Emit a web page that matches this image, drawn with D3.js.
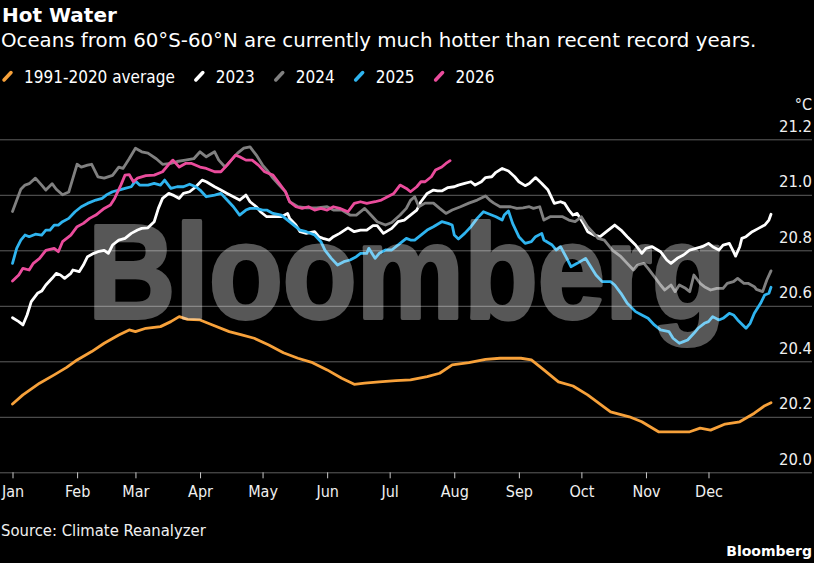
<!DOCTYPE html>
<html>
<head>
<meta charset="utf-8">
<script src="https://cdn.jsdelivr.net/npm/d3@7"></script>
<style>
  body { margin: 0; background: #000; }
  svg { display: block; background: #000; }
</style>
</head>
<body>
<svg id="chart"></svg>
<script>
// day of year (0 = Jan 1), sea surface temperature in °C
const avg = [[0,20.246],[5,20.279],[13,20.321],[20,20.351],[26,20.378],[31,20.405],[38,20.435],[44,20.465],
  [51,20.495],[56,20.513],[59,20.507],[64,20.519],[71,20.525],[76,20.543],[80,20.561],[84,20.551],[90,20.549],
  [96,20.531],[104,20.507],[110,20.495],[116,20.483],[123,20.459],[130,20.431],[137,20.411],[144,20.395],
  [151,20.369],[158,20.339],[164,20.317],[169,20.321],[176,20.326],[184,20.33],[191,20.333],[199,20.345],
  [205,20.357],[211,20.387],[219,20.395],[227,20.407],[234,20.411],[244,20.411],[249,20.405],[255,20.369],
  [262,20.326],[269,20.311],[276,20.279],[287,20.218],[296,20.2],[302,20.182],[310,20.146],[319,20.146],
  [325,20.146],[330,20.159],[335,20.152],[342,20.174],[349,20.182],[356,20.213],[361,20.24],[364,20.251]]

const y2023 = [[0,20.557],[3,20.543],[5,20.531],[7,20.567],[9,20.615],[12,20.645],[14,20.653],[16,20.675],
  [19,20.699],[21,20.717],[23,20.711],[25,20.699],[28,20.717],[29,20.729],[32,20.723],[34,20.747],[36,20.777],
  [39,20.789],[41,20.795],[44,20.80],[46,20.789],[48,20.819],[51,20.837],[54,20.843],[57,20.861],[60,20.873],
  [62,20.879],[65,20.881],[68,20.903],[70,20.951],[72,20.987],[75,21.005],[77,20.999],[80,20.987],[82,21.005],
  [85,21.011],[88,21.029],[91,21.053],[93,21.047],[97,21.029],[100,21.017],[103,21.005],[106,20.993],
  [109,20.981],[112,20.999],[114,20.975],[117,20.957],[119,20.939],[122,20.921],[125,20.921],[129,20.921],
  [132,20.933],[133,20.915],[136,20.891],[138,20.867],[141,20.861],[145,20.867],[147,20.849],[149,20.843],
  [152,20.837],[154,20.849],[157,20.861],[161,20.881],[164,20.867],[167,20.873],[170,20.873],[173,20.889],
  [175,20.889],[178,20.861],[182,20.879],[185,20.903],[188,20.909],[191,20.927],[194,20.945],[196,20.975],
  [199,21.005],[202,21.017],[204,21.014],[206,21.014],[209,21.026],[212,21.029],[214,21.035],[217,21.041],
  [220,21.047],[222,21.035],[225,21.047],[227,21.062],[230,21.065],[232,21.081],[235,21.095],[238,21.086],
  [241,21.065],[243,21.047],[246,21.033],[248,21.041],[251,21.062],[254,21.041],[257,21.017],[260,20.969],
  [263,20.975],[265,20.969],[267,20.945],[269,20.927],[271,20.933],[274,20.897],[276,20.867],[279,20.855],
  [282,20.849],[285,20.867],[287,20.879],[289,20.891],[292,20.873],[295,20.849],[299,20.819],[302,20.789],
  [304,20.807],[307,20.813],[311,20.795],[314,20.765],[316,20.753],[319,20.771],[322,20.783],[325,20.801],
  [328,20.807],[331,20.813],[334,20.825],[336,20.813],[339,20.801],[341,20.819],[344,20.825],[346,20.795],
  [347,20.779],[349,20.813],[350,20.843],[352,20.849],[355,20.867],[358,20.879],[361,20.891],[363,20.909],[364,20.93]]

const y2024 = [[0,20.94],[4,21.02],[6,21.035],[8,21.04],[11,21.06],[14,21.035],[16,21.017],[19,21.04],
  [21,21.02],[24,21.0],[27,21.01],[29,21.06],[31,21.11],[33,21.10],[36,21.107],[38,21.11],[41,21.065],
  [44,21.06],[48,21.07],[51,21.10],[53,21.095],[56,21.13],[59,21.168],[62,21.155],[65,21.15],[69,21.13],
  [72,21.11],[76,21.113],[79,21.12],[83,21.125],[87,21.13],[90,21.155],[93,21.137],[97,21.155],[99,21.125],
  [102,21.10],[105,21.125],[108,21.15],[111,21.168],[114,21.173],[117,21.143],[120,21.107],[122,21.09],
  [125,21.06],[128,21.035],[131,21.011],[133,20.975],[137,20.957],[141,20.953],[146,20.953],[151,20.957],
  [154,20.945],[158,20.945],[162,20.927],[165,20.927],[169,20.951],[172,20.927],[175,20.903],[179,20.891],
  [182,20.90],[186,20.927],[189,20.951],[191,20.98],[193,20.993],[195,20.957],[198,20.97],[202,20.97],
  [205,20.951],[208,20.933],[211,20.945],[215,20.957],[219,20.97],[223,20.981],[227,20.996],[229,20.981],
  [231,20.97],[234,20.957],[239,20.957],[242,20.951],[245,20.953],[248,20.957],[250,20.951],[253,20.957],
  [255,20.909],[258,20.921],[261,20.921],[264,20.921],[267,20.909],[270,20.903],[273,20.921],[276,20.885],
  [279,20.861],[281,20.843],[284,20.837],[288,20.80],[292,20.777],[295,20.753],[298,20.729],[300,20.747],
  [303,20.753],[305,20.735],[308,20.705],[311,20.675],[313,20.657],[316,20.675],[318,20.651],[320,20.675],
  [323,20.663],[325,20.651],[327,20.711],[330,20.681],[332,20.669],[335,20.657],[338,20.663],[341,20.663],
  [343,20.681],[346,20.687],[348,20.699],[351,20.681],[353,20.681],[356,20.669],[357,20.659],[360,20.651],
  [362,20.693],[364,20.726]]

const y2025 = [[0,20.753],[2,20.807],[4,20.837],[6,20.855],[8,20.849],[11,20.858],[14,20.855],[16,20.873],
  [18,20.873],[20,20.891],[22,20.891],[24,20.903],[27,20.915],[30,20.939],[33,20.957],[36,20.969],[40,20.981],
  [43,20.987],[45,20.999],[48,21.011],[51,21.017],[54,21.023],[57,21.029],[59,21.05],[61,21.035],[65,21.035],
  [68,21.041],[71,21.035],[73,21.053],[76,21.023],[79,21.029],[82,21.029],[85,21.038],[88,21.029],[90,21.017],
  [93,20.993],[97,20.999],[100,21.005],[103,20.981],[106,20.957],[109,20.927],[112,20.945],[114,20.951],
  [117,20.951],[120,20.945],[122,20.945],[125,20.933],[129,20.927],[132,20.909],[135,20.891],[138,20.873],
  [141,20.867],[145,20.855],[148,20.831],[150,20.80],[153,20.771],[156,20.747],[159,20.759],[162,20.765],
  [165,20.777],[167,20.789],[170,20.789],[171,20.807],[174,20.771],[176,20.789],[179,20.801],[182,20.801],
  [186,20.825],[189,20.843],[191,20.837],[193,20.837],[196,20.855],[199,20.873],[202,20.885],[206,20.903],
  [209,20.897],[211,20.891],[212,20.855],[214,20.841],[217,20.861],[220,20.885],[223,20.915],[226,20.939],
  [229,20.93],[232,20.921],[235,20.909],[236,20.927],[238,20.942],[240,20.897],[243,20.849],[246,20.825],
  [249,20.831],[251,20.849],[254,20.861],[255,20.837],[259,20.819],[261,20.801],[263,20.813],[266,20.771],
  [268,20.741],[271,20.753],[275,20.771],[277,20.747],[280,20.711],[283,20.687],[287,20.687],[289,20.675],
  [292,20.645],[295,20.609],[299,20.579],[302,20.567],[305,20.555],[308,20.531],[311,20.513],[315,20.507],
  [317,20.483],[320,20.465],[322,20.471],[324,20.477],[327,20.501],[329,20.519],[332,20.537],[334,20.543],
  [336,20.561],[339,20.549],[341,20.555],[344,20.573],[346,20.567],[348,20.549],[352,20.519],[354,20.537],
  [356,20.573],[359,20.609],[361,20.639],[363,20.645],[364,20.667]]

const y2026 = [[0,20.689],[3,20.711],[5,20.735],[8,20.729],[10,20.753],[13,20.771],[16,20.80],[20,20.807],
  [22,20.795],[24,20.831],[28,20.855],[31,20.885],[34,20.897],[37,20.915],[40,20.927],[44,20.951],[47,20.963],
  [49,20.987],[52,21.035],[54,21.071],[56,21.073],[58,21.047],[60,21.06],[64,21.069],[68,21.071],[72,21.083],
  [75,21.11],[77,21.125],[80,21.10],[83,21.113],[86,21.113],[90,21.10],[93,21.095],[97,21.083],[100,21.083],
  [103,21.107],[107,21.143],[109,21.137],[112,21.125],[115,21.125],[118,21.107],[121,21.083],[125,21.071],
  [128,21.041],[131,21.011],[133,20.975],[136,20.957],[139,20.951],[142,20.957],[145,20.945],[148,20.951],
  [151,20.945],[154,20.957],[157,20.951],[161,20.939],[164,20.969],[167,20.975],[170,20.969],[174,20.975],
  [177,20.981],[180,20.993],[183,21.005],[186,21.035],[189,21.023],[191,21.011],[194,21.029],[196,21.047],
  [198,21.047],[201,21.065],[203,21.089],[206,21.10],[208,21.113],[210,21.123]]

const seriesNames = ['1991-2020 average', '2023', '2024', '2025', '2026']
const seriesData = [avg, y2023, y2024, y2025, y2026]
const seriesColors = ['#f7a13a', '#ffffff', '#808080', '#2fb4ef', '#ea4c9c']
const yTicks = [20.0, 20.2, 20.4, 20.6, 20.8, 21.0, 21.2]

const width = 814
const height = 563
const font = '"DejaVu Sans Condensed", "DejaVu Sans", sans-serif'

let svg = d3.select('#chart')
    .attr('width', width)
    .attr('height', height)
    .style('font-stretch', 'condensed')

let startDate = new Date(2023, 0, 1)
let toDate = d => d3.timeDay.offset(startDate, d)

let x = d3.scaleTime()
    .domain([startDate, new Date(2023, 11, 31)])
    .range([12.5, 771])

let y = d3.scaleLinear()
    .domain([20, 21.2])
    .range([472.3, 139.3])

// titles
svg.append('text')
    .attr('x', 2).attr('y', 22)
    .attr('fill', '#fff')
    .attr('font-family', '"DejaVu Sans", sans-serif')
    .style('font-stretch', 'normal')
    .attr('font-weight', 'bold')
    .attr('font-size', '20px')
    .text('Hot Water')

svg.append('text')
    .attr('x', 1).attr('y', 47)
    .attr('fill', '#fff')
    .attr('font-family', '"DejaVu Sans", sans-serif')
    .style('font-stretch', 'normal')
    .attr('font-size', '19.8px')
    .text('Oceans from 60°S-60°N are currently much hotter than recent record years.')

// legend
let legend = svg.append('g').attr('id', 'legend')
let lx = 2
seriesNames.forEach((name, i) => {
    legend.append('line')
        .attr('x1', lx + 2).attr('y1', 80)
        .attr('x2', lx + 9).attr('y2', 72.5)
        .attr('stroke', seriesColors[i])
        .attr('stroke-width', 3.5)
        .attr('stroke-linecap', 'round')
    let t = legend.append('text')
        .attr('x', lx + 22).attr('y', 83)
        .attr('fill', '#fff')
        .attr('font-family', font)
        .attr('font-size', '17px')
        .text(name)
    lx = lx + 22 + t.node().getComputedTextLength() + 19
})

// y gridlines + labels
let yAxis = svg.append('g')
    .attr('transform', 'translate(812,0)')
    .call(d3.axisLeft(y).tickValues(yTicks).tickSize(812).tickFormat(d3.format('.1f')))
yAxis.select('.domain').remove()
yAxis.selectAll('.tick line').attr('stroke', '#5e5e5e').attr('stroke-width', 1)
yAxis.selectAll('.tick text')
    .attr('x', 0).attr('dy', -8)
    .attr('text-anchor', 'end')
    .attr('fill', '#f0f0f0')
    .attr('font-family', font)
    .attr('font-size', '16.5px')

svg.append('text')
    .attr('x', 812).attr('y', 110)
    .attr('text-anchor', 'end')
    .attr('fill', '#f0f0f0')
    .attr('font-family', font)
    .attr('font-size', '16px')
    .text('°C')

// x axis
let xAxis = svg.append('g')
    .attr('transform', `translate(0,${y(20)})`)
    .call(d3.axisBottom(x).ticks(d3.timeMonth.every(1)).tickSize(6).tickFormat(d3.timeFormat('%b')))
xAxis.select('.domain').remove()
xAxis.selectAll('.tick line').attr('stroke', '#c8c8c8').attr('stroke-width', 1)
xAxis.selectAll('.tick text')
    .attr('y', 25).attr('dy', 0)
    .attr('fill', '#f0f0f0')
    .attr('font-family', font)
    .attr('font-size', '16px')

// series lines
let line = d3.line()
    .x(d => x(toDate(d[0])))
    .y(d => y(d[1]))

svg.append('g').attr('id', 'lines')
    .selectAll('path')
    .data(seriesData)
    .join('path')
    .attr('d', line)
    .attr('fill', 'none')
    .attr('stroke', (d, i) => seriesColors[i])
    .attr('stroke-width', 2.8)
    .attr('stroke-linejoin', 'round')
    .attr('stroke-linecap', 'round')

// watermark sits on top, semi transparent, squeezed to fit 86..728
let mark = svg.append('g').attr('opacity', 0.34)
let markText = mark.append('text')
    .attr('fill', '#fff')
    .attr('stroke', '#fff')
    .attr('stroke-width', 4)
    .attr('stroke-linejoin', 'round')
    .attr('font-family', '"Liberation Sans", Arial, sans-serif')
    .style('font-stretch', 'normal')
    .attr('font-weight', 'bold')
    .attr('font-size', '133px')
    .text('Bloomberg')
let markW = markText.node().getComputedTextLength()
markText.attr('transform', `translate(88,318) scale(${638 / markW},1)`)

// footer
svg.append('text')
    .attr('x', 1).attr('y', 536)
    .attr('fill', '#f0f0f0')
    .attr('font-family', font)
    .attr('font-size', '16.5px')
    .text('Source: Climate Reanalyzer')

svg.append('text')
    .attr('x', 812).attr('y', 556)
    .attr('text-anchor', 'end')
    .attr('fill', '#fff')
    .attr('font-family', '"DejaVu Sans", sans-serif')
    .style('font-stretch', 'normal')
    .attr('font-weight', 'bold')
    .attr('font-size', '14px')
    .text('Bloomberg')
</script>
</body>
</html>
